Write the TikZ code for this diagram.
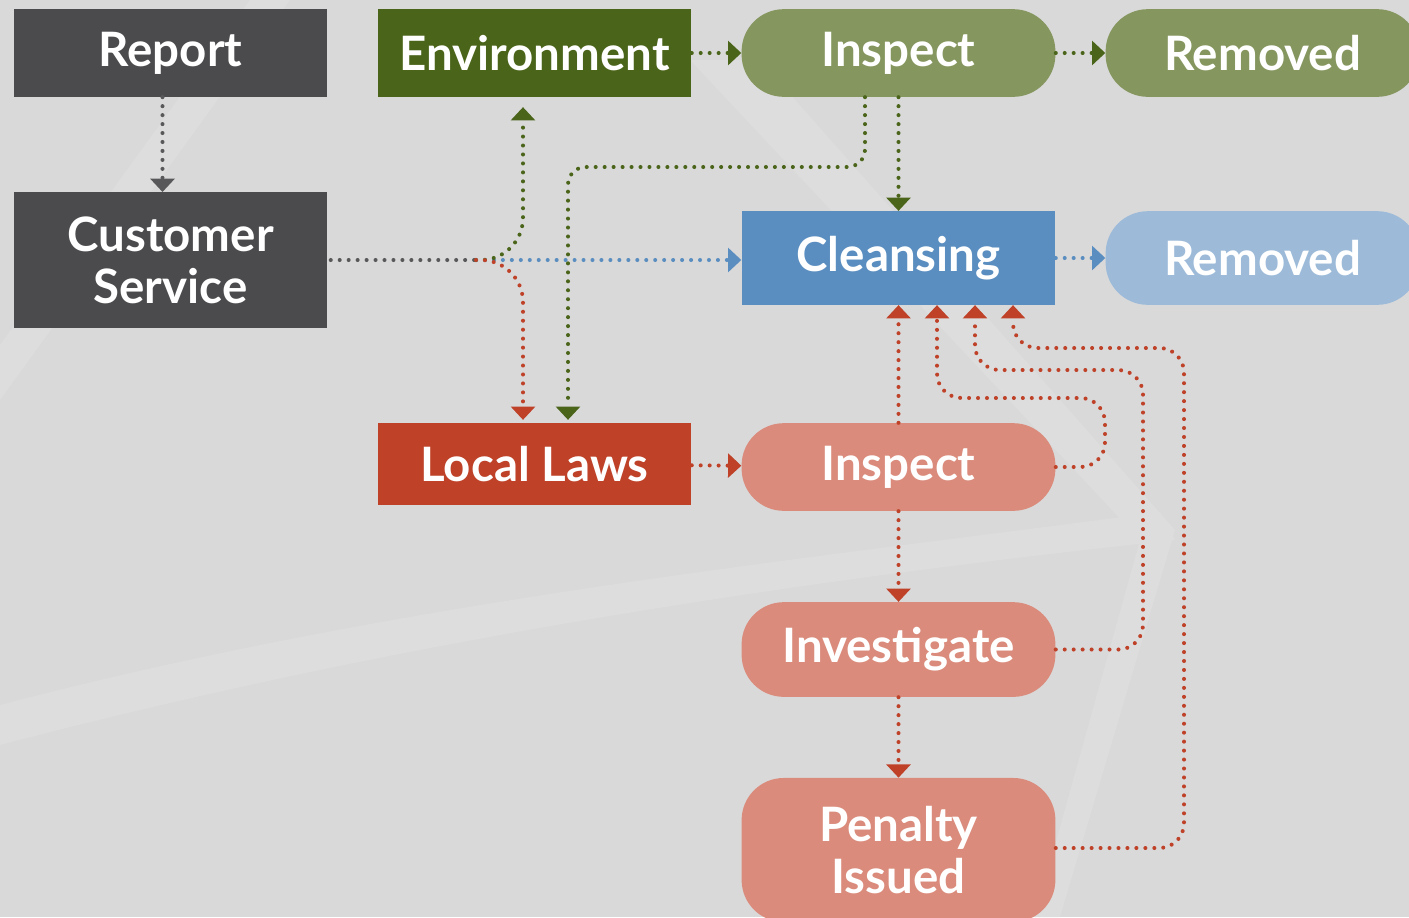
\documentclass[tikz,border=0pt]{standalone}
\usepackage{fontspec}
\setmainfont{Lato}
\usetikzlibrary{arrows.meta,calc}

\definecolor{BgGray}{HTML}{D9D9D9}
\definecolor{BgLight}{HTML}{DDDDDD}
\definecolor{DarkGray}{HTML}{4B4B4D}
\definecolor{LineGray}{HTML}{58585A}
\definecolor{EnvGreen}{HTML}{4A6419}
\definecolor{SoftGreen}{HTML}{85965F}
\definecolor{CleanBlue}{HTML}{5A8EC0}
\definecolor{SoftBlue}{HTML}{9DBBD9}
\definecolor{LawRed}{HTML}{BE4128}
\definecolor{SoftRed}{HTML}{DA8B7B}

\begin{document}
\begin{tikzpicture}[x=0.02cm,y=-0.02cm,
    box/.style={fill=#1,text=white,minimum width=178.6pt,inner sep=0pt,
      align=center,font=\fontsize{27}{29.5}\selectfont\bfseries},
    pill/.style={box=#1,rounded corners=24pt},
    link/.style={draw=#1,line width=2.3pt,line cap=round,
      dash pattern=on 0pt off 5.1pt,
      -{Triangle[width=14pt,length=7.5pt,line width=0pt]}}]

    % background and its faint bands
    \fill[BgGray] (0,0) rectangle (1409,917);
    \useasboundingbox (0,0) rectangle (1409,917);
    \fill[BgLight] (0,345) -- (250,0) -- (290,0) -- (0,400) -- cycle;
    \fill[BgLight] (0,705) .. controls (400,600) and (800,560) .. (1160,512)
      -- (1175,540) .. controls (800,580) and (400,640) .. (0,745) -- cycle;
    \fill[BgLight] (690,60) -- (760,60) -- (1175,530) -- (1060,917)
      -- (1035,917) -- (1140,540) -- cycle;

    % first row
    \node[box=DarkGray,minimum height=49.9pt] (ReportBox) at (170.5,53) {Report};
    \node[box=EnvGreen,minimum height=49.9pt] (EnvBox) at (534.5,53) {Environment};
    \node[pill=SoftGreen,minimum height=49.9pt] (EnvInspect) at (898.5,53) {Inspect};
    \node[pill=SoftGreen,minimum height=49.9pt] (EnvRemoved) at (1262.5,53) {Removed};

    % second row
    \node[box=DarkGray,minimum height=77.1pt] (CustServ) at (170.5,260) {Customer\\Service};
    \node[box=CleanBlue,minimum height=53.3pt] (CleanBox) at (898.5,258) {Cleansing};
    \node[pill=SoftBlue,minimum height=53.3pt] (CleanRemoved) at (1262.5,258) {Removed};

    % local laws column
    \node[box=LawRed,minimum height=46.5pt] (LawBox) at (534.5,464) {Local Laws};
    \node[pill=SoftRed,minimum height=49.9pt] (LawInspect) at (898.5,467) {Inspect};
    \node[pill=SoftRed,minimum height=53.9pt] (LawInvest) at (898.5,649.5) {Investigate};
    \node[pill=SoftRed,minimum height=82pt] (LawPenalty) at (898.5,850) {Penalty\\Issued};

    \coordinate (Split) at (476,260);

    \draw[link=LineGray] ($(ReportBox.south)+(-8,0)$) -- ($(CustServ.north)+(-8,0)$);
    \draw[link=LineGray,-] ($(CustServ.east)+(3,0)$) -- (Split);

    \draw[link=CleanBlue] (Split) -- (CleanBox.west |- Split);
    \draw[link=EnvGreen,rounded corners=24pt] (Split) -| ($(EnvBox.south)+(-11.5,10)$);
    \draw[link=LawRed,rounded corners=24pt] (Split) -| ($(LawBox.north)+(-11.5,-3)$);

    \draw[link=EnvGreen] (EnvBox) -- (EnvInspect);
    \draw[link=EnvGreen] (EnvInspect) -- (EnvRemoved);
    \draw[link=EnvGreen] (EnvInspect) -- (CleanBox);
    \draw[link=EnvGreen,rounded corners=10pt] ($(EnvInspect.south)+(-33.5,0)$)
      |- (568,167) -- ($(LawBox.north)+(33.5,-3)$);
    \draw[link=CleanBlue] (CleanBox) -- (CleanRemoved);

    \draw[link=LawRed] (LawBox) -- (LawInspect);
    \draw[link=LawRed] (LawInspect) -- (CleanBox);
    \draw[link=LawRed] (LawInspect) -- (LawInvest);
    \draw[link=LawRed] (LawInvest) -- (LawPenalty);

    \draw[link=LawRed,rounded corners=14pt] (LawInspect.east)
      -| (1105,398) -| ($(CleanBox.south)+(38.5,0)$);
    \draw[link=LawRed,rounded corners=14pt] (LawInvest.east)
      -| (1143,370) -| ($(CleanBox.south)+(76.5,0)$);
    \draw[link=LawRed,rounded corners=14pt] (LawPenalty.east |- 0,848)
      -| (1184,348) -| ($(CleanBox.south)+(114.5,0)$);

    % \draw (0,0) rectangle (1409,917);
  \end{tikzpicture}
\end{document}
